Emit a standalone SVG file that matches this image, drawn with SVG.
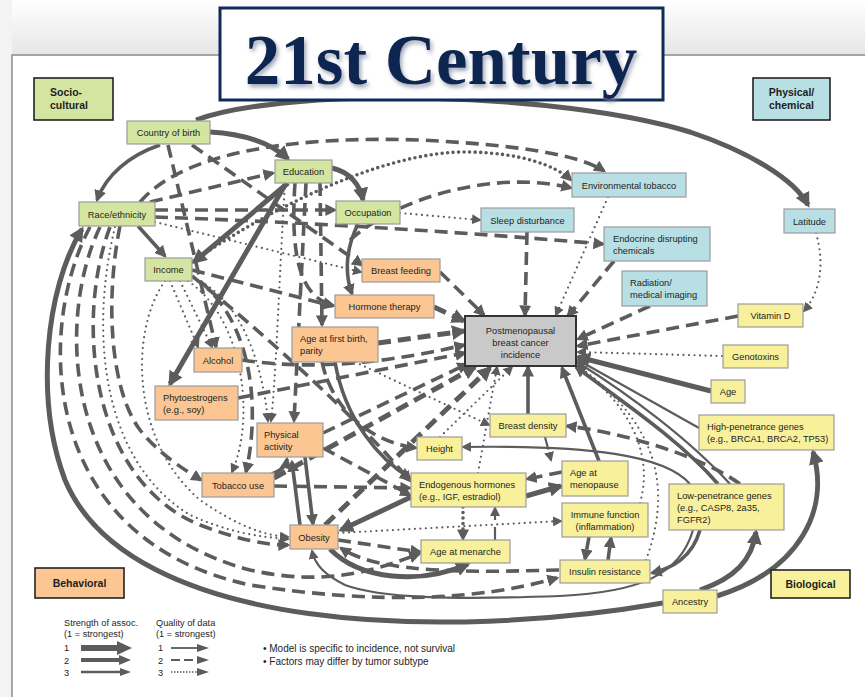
<svg xmlns="http://www.w3.org/2000/svg" width="865" height="697" viewBox="0 0 865 697">
<defs>
<linearGradient id="sh" x1="0" y1="0" x2="0" y2="1"><stop offset="0" stop-color="#ffffff"/><stop offset="1" stop-color="#e6e6e6"/></linearGradient>
<filter id="ds" x="-10%" y="-20%" width="120%" height="150%"><feDropShadow dx="2" dy="3" stdDeviation="2" flood-color="#7d879c" flood-opacity="0.75"/></filter>
<marker id="a1" viewBox="0 0 10 10" refX="8" refY="5" markerWidth="15" markerHeight="15" markerUnits="userSpaceOnUse" orient="auto"><path d="M0,0 L10,5 L0,10z" fill="#5c5c5c"/></marker>
<marker id="a2" viewBox="0 0 10 10" refX="8" refY="5" markerWidth="12" markerHeight="12" markerUnits="userSpaceOnUse" orient="auto"><path d="M0,0 L10,5 L0,10z" fill="#5c5c5c"/></marker>
<marker id="a3" viewBox="0 0 10 10" refX="8" refY="5" markerWidth="10" markerHeight="10" markerUnits="userSpaceOnUse" orient="auto"><path d="M0,0 L10,5 L0,10z" fill="#5c5c5c"/></marker>
</defs>
<style>
text{font-family:"Liberation Sans",Arial,sans-serif;font-size:9.3px;fill:#1e1e1e}
.n rect{stroke:#9c9c9c;stroke-width:1.2}
.g rect{fill:#d3e5a1}.b rect{fill:#b8dfe3}.r rect{fill:#fbc692}.y rect{fill:#f8f09b}
.cat rect{stroke:#222;stroke-width:1.6}
.cat text{font-weight:bold;font-size:10.5px}
.mid{text-anchor:middle}
#connectors path{fill:none;stroke:#5c5c5c}
.t1{stroke-width:5}.t2{stroke-width:3.6}.t3{stroke-width:2.2}
.da{stroke-dasharray:13 7}
.do{stroke-dasharray:0 5.5;stroke-linecap:round}
.e1{marker-end:url(#a1)}.e2{marker-end:url(#a2)}.e3{marker-end:url(#a3)}
.leg{font-size:9.2px}
</style>
<rect x="0" y="0" width="865" height="697" fill="#f3f3f3"/>
<rect x="12" y="0" width="853" height="55" fill="url(#sh)"/>
<rect x="12" y="55" width="860" height="650" fill="#ffffff" stroke="#8a8a8a" stroke-width="1.5"/>

<g id="connectors">
<path class="t1 e1" d="M196,120 C290,86 560,92 690,132 C750,152 795,180 808,205"/>
<path class="t2 e2" d="M160,145 C130,155 106,175 97,200"/>
<path class="t1 e1" d="M210,132 C245,134 272,144 288,159"/>
<path class="t2 da e2" d="M140,202 C185,150 300,136 420,140 C520,145 580,155 604,171"/>
<path class="t2 da e2" d="M150,202 L273,173"/>
<path class="t2 da e2" d="M168,145 L216,347"/>
<path class="t2 da e2" d="M192,145 L362,265"/>
<path class="t2 da e2" d="M155,210 L335,210"/>
<path class="t2 e2" d="M138,226 L165,256"/>
<path class="t1 e1" d="M288,183 L194,262"/>
<path class="t1 e1" d="M332,168 C350,172 360,185 363,200"/>
<path class="t2 do e2" d="M192,262 C260,215 380,150 470,152 C520,153 555,165 571,180"/>
<path class="t2 da e2" d="M350,240 C400,195 500,170 571,188"/>
<path class="t3 do e3" d="M400,213 L480,220"/>
<path class="t2 da e2" d="M155,217 Q380,225 603,244"/>
<path class="t3 do e3" d="M155,222 L361,272"/>
<path class="t2 da e2" d="M320,183 L322,325"/>
<path class="t2 da e2" d="M295,183 C290,255 300,298 333,305"/>
<path class="t2 da e2" d="M306,183 L294,421"/>
<path class="t3 do e3" d="M285,183 C280,260 276,380 271,421"/>
<path class="t2 e2" d="M358,224 C345,250 345,275 352,294"/>
<path class="t2 da e2" d="M192,270 L333,306"/>
<path class="t1 e1" d="M285,185 L170,384"/>
<path class="t3 do e3" d="M180,281 L212,347"/>
<path class="t3 do e3" d="M170,281 L198,347"/>
<path class="t3 do e3" d="M188,281 C245,320 255,420 232,472"/>
<path class="t2 da e2" d="M200,281 C258,330 258,420 246,472"/>
<path class="t3 do e3" d="M196,279 C240,300 262,360 268,421"/>
<path class="t3 do e3" d="M165,281 C130,330 130,440 200,500 C240,528 268,536 288,537"/>
<path class="t2 da e2" d="M192,276 C260,330 360,420 410,481"/>
<path class="t2 da e2" d="M120,226 C105,300 110,390 140,430 C160,455 185,470 201,480"/>
<path class="t2 da e2" d="M100,227 C55,320 60,520 250,570 C330,588 380,568 419,554"/>
<path class="t2 da e2" d="M110,227 C75,320 90,480 200,525 C240,540 265,545 288,545"/>
<path class="t3 do e3" d="M115,227 C90,330 100,460 190,515 C230,533 260,537 288,539"/>
<path class="t2 da e2" d="M90,227 C35,330 40,540 250,585 C380,605 480,600 557,578"/>
<path class="t1 e1" d="M663,603 C450,640 130,635 65,480 C35,400 45,290 82,229"/>
<path class="t3 e3" d="M693,530 C680,575 640,592 560,596 C450,600 380,598 345,585 C325,575 315,565 312,551"/>
<path class="t2 da e2" d="M559,570 C480,572 380,575 341,548"/>
<path class="t1 e1" d="M330,549 C360,580 420,585 468,564"/>
<path class="t3 do e3" d="M338,533 L561,521"/>
<path class="t1 e1" d="M411,497 L341,530"/>
<path class="t2 da e2" d="M338,540 L420,552"/>
<path class="t2 do e2" d="M463,507 L463,539"/>
<path class="t3 da e3" d="M495,540 L495,508"/>
<path class="t2 da e2" d="M589,537 L585,559"/>
<path class="t2 da e2" d="M608,560 L611,538"/>
<path class="t1 e1" d="M526,496 L561,486"/>
<path class="t2 da e2" d="M562,472 L527,479"/>
<path class="t2 e2" d="M599,461 L562,368"/>
<path class="t2 e2" d="M528,414 L528,367"/>
<path class="t3 da e3" d="M545,437 L551,460"/>
<path class="t3 e3" d="M690,484 C665,455 590,445 463,447"/>
<path class="t2 da e2" d="M740,484 C700,455 620,432 567,426"/>
<path class="t2 e2" d="M718,484 C680,440 620,400 576,367"/>
<path class="t3 e3" d="M730,484 C690,440 630,395 577,362"/>
<path class="t1 e1" d="M700,590 C735,578 752,560 756,532"/>
<path class="t1 e1" d="M717,596 C800,570 830,510 813,452"/>
<path class="t2 e2" d="M700,530 C692,558 672,568 652,573"/>
<path class="t3 do e3" d="M646,560 C668,500 668,430 578,366"/>
<path class="t3 do e3" d="M640,503 C655,450 625,400 576,366"/>
<path class="t3 e3" d="M699,428 L578,360"/>
<path class="t1 e1" d="M711,391 L578,357"/>
<path class="t3 do e3" d="M722,356 L578,352"/>
<path class="t2 da e2" d="M738,316 L578,346"/>
<path class="t2 da e2" d="M650,306 L578,339"/>
<path class="t2 da e2" d="M614,261 L568,316"/>
<path class="t3 do e3" d="M608,197 L556,315"/>
<path class="t2 da e2" d="M527,232 L525,315"/>
<path class="t3 do e3" d="M816,233 C826,268 818,295 804,311"/>
<path class="t2 da e2" d="M440,272 L484,315"/>
<path class="t1 da e1" d="M434,307 L464,321"/>
<path class="t1 da e1" d="M378,343 L464,331"/>
<path class="t3 do e3" d="M355,362 L489,425"/>
<path class="t2 da e2" d="M242,360 C320,372 400,360 464,345"/>
<path class="t2 da e2" d="M238,398 L465,353"/>
<path class="t2 da e2" d="M323,433 L467,364"/>
<path class="t1 da e1" d="M274,478 L475,367"/>
<path class="t1 da e1" d="M325,525 L490,368"/>
<path class="t3 do e3" d="M440,437 L512,367"/>
<path class="t3 do e3" d="M478,473 L497,367"/>
<path class="t2 da e2" d="M274,486 L410,488"/>
<path class="t2 e2" d="M272,474 C282,470 286,466 287,459"/>
<path class="t2 e2" d="M305,457 L313,524"/>
<path class="t2 e2" d="M335,362 C345,420 380,460 410,478"/>
<path class="t2 da e2" d="M322,362 C330,400 360,440 416,448"/>
<path class="t2 da e2" d="M323,448 L410,495"/>
<path class="t2 e2" d="M300,525 L292,462"/>
</g>

<g id="title">
<rect x="220" y="8" width="443" height="92" fill="#ffffff" stroke="#0f2b57" stroke-width="3"/>
<text x="441" y="84" text-anchor="middle" filter="url(#ds)" style="font-family:'Liberation Serif','Times New Roman',serif;font-size:71px;font-weight:bold;fill:#0c2551">21st Century</text>
</g>

<g id="cat-socio-cultural" class="cat g"><rect x="34" y="78" width="79" height="42"/><text x="50" y="96">Socio-</text><text x="50" y="109">cultural</text></g>
<g id="cat-physical-chemical" class="cat b"><rect x="753" y="78" width="77" height="42"/><text x="791.5" y="96" class="mid">Physical/</text><text x="791.5" y="109" class="mid">chemical</text></g>
<g id="cat-behavioral" class="cat r"><rect x="35" y="568" width="89" height="30"/><text x="79.5" y="587" class="mid">Behavioral</text></g>
<g id="cat-biological" class="cat y"><rect x="771" y="570" width="79" height="28"/><text x="810.5" y="588" class="mid">Biological</text></g>

<g id="country-of-birth" class="n g"><rect x="127" y="121" width="83" height="23"/><text x="168.5" y="136" class="mid">Country of birth</text></g>
<g id="education" class="n g"><rect x="275" y="160" width="57" height="23"/><text x="303.5" y="175" class="mid">Education</text></g>
<g id="race-ethnicity" class="n g"><rect x="79" y="202" width="76" height="24"/><text x="117" y="218" class="mid">Race/ethnicity</text></g>
<g id="occupation" class="n g"><rect x="336" y="201" width="64" height="23"/><text x="368" y="216" class="mid">Occupation</text></g>
<g id="income" class="n g"><rect x="145" y="258" width="47" height="23"/><text x="168.5" y="273" class="mid">Income</text></g>

<g id="environmental-tobacco" class="n b"><rect x="572" y="173" width="114" height="24"/><text x="629" y="189" class="mid">Environmental tobacco</text></g>
<g id="sleep-disturbance" class="n b"><rect x="481" y="208" width="93" height="24"/><text x="527.5" y="224" class="mid">Sleep disturbance</text></g>
<g id="latitude" class="n b"><rect x="784" y="209" width="51" height="24"/><text x="809.5" y="225" class="mid">Latitude</text></g>
<g id="endocrine-disrupting-chemicals" class="n b"><rect x="604" y="227" width="106" height="34"/><text x="613" y="242">Endocrine disrupting</text><text x="613" y="254">chemicals</text></g>
<g id="radiation-medical-imaging" class="n b"><rect x="622" y="271" width="85" height="35"/><text x="630" y="286">Radiation/</text><text x="630" y="298">medical imaging</text></g>

<g id="breast-feeding" class="n r"><rect x="362" y="259" width="78" height="23"/><text x="401" y="274" class="mid">Breast feeding</text></g>
<g id="hormone-therapy" class="n r"><rect x="335" y="295" width="99" height="23"/><text x="384.5" y="310" class="mid">Hormone therapy</text></g>
<g id="age-at-first-birth" class="n r"><rect x="292" y="327" width="86" height="35"/><text x="300" y="342">Age at first birth,</text><text x="300" y="354">parity</text></g>
<g id="alcohol" class="n r"><rect x="194" y="348" width="48" height="24"/><text x="218" y="364" class="mid">Alcohol</text></g>
<g id="phytoestrogens" class="n r"><rect x="155" y="386" width="83" height="34"/><text x="163" y="401">Phytoestrogens</text><text x="163" y="413">(e.g., soy)</text></g>
<g id="physical-activity" class="n r"><rect x="257" y="423" width="66" height="34"/><text x="264" y="438">Physical</text><text x="264" y="450">activity</text></g>
<g id="tobacco-use" class="n r"><rect x="202" y="473" width="72" height="24"/><text x="238" y="489" class="mid">Tobacco use</text></g>
<g id="obesity" class="n r"><rect x="290" y="525" width="48" height="24"/><text x="314" y="541" class="mid">Obesity</text></g>

<g id="incidence"><rect x="465" y="316" width="111" height="50" fill="#c9c9c9" stroke="#333" stroke-width="2"/><text x="520.5" y="334" class="mid">Postmenopausal</text><text x="520.5" y="346" class="mid">breast cancer</text><text x="520.5" y="358" class="mid">incidence</text></g>

<g id="vitamin-d" class="n y"><rect x="738" y="304" width="65" height="23"/><text x="770.5" y="319" class="mid">Vitamin D</text></g>
<g id="genotoxins" class="n y"><rect x="723" y="345" width="65" height="23"/><text x="755.5" y="360" class="mid">Genotoxins</text></g>
<g id="age" class="n y"><rect x="711" y="380" width="34" height="23"/><text x="728" y="395" class="mid">Age</text></g>
<g id="high-penetrance-genes" class="n y"><rect x="699" y="415" width="135" height="35"/><text x="707" y="430">High-penetrance genes</text><text x="707" y="442">(e.g., BRCA1, BRCA2, TP53)</text></g>
<g id="breast-density" class="n y"><rect x="490" y="414" width="76" height="23"/><text x="528" y="429" class="mid">Breast density</text></g>
<g id="height" class="n y"><rect x="417" y="437" width="45" height="23"/><text x="439.5" y="452" class="mid">Height</text></g>
<g id="age-at-menopause" class="n y"><rect x="562" y="461" width="66" height="35"/><text x="570" y="476">Age at</text><text x="570" y="488">menopause</text></g>
<g id="endogenous-hormones" class="n y"><rect x="411" y="473" width="115" height="34"/><text x="419" y="488">Endogenous hormones</text><text x="419" y="500">(e.g., IGF, estradiol)</text></g>
<g id="immune-function" class="n y"><rect x="562" y="503" width="86" height="34"/><text x="605" y="518" class="mid">Immune function</text><text x="605" y="530" class="mid">(inflammation)</text></g>
<g id="low-penetrance-genes" class="n y"><rect x="669" y="484" width="115" height="46"/><text x="677" y="499">Low-penetrance genes</text><text x="677" y="511">(e.g., CASP8, 2a35,</text><text x="677" y="523">FGFR2)</text></g>
<g id="age-at-menarche" class="n y"><rect x="421" y="540" width="89" height="23"/><text x="465.5" y="555" class="mid">Age at menarche</text></g>
<g id="insulin-resistance" class="n y"><rect x="560" y="560" width="90" height="23"/><text x="605" y="575" class="mid">Insulin resistance</text></g>
<g id="ancestry" class="n y"><rect x="663" y="590" width="54" height="23"/><text x="690" y="605" class="mid">Ancestry</text></g>

<g id="legend">
<text class="leg" x="64" y="626">Strength of assoc.</text>
<text class="leg" x="64" y="637">(1 = strongest)</text>
<text class="leg" x="64" y="651">1</text><text class="leg" x="64" y="664">2</text><text class="leg" x="64" y="676">3</text>
<line x1="81" y1="648" x2="119" y2="648" stroke="#5c5c5c" stroke-width="6"/><polygon points="117,641 132,648 117,655" fill="#5c5c5c"/>
<line x1="81" y1="660" x2="120" y2="660" stroke="#5c5c5c" stroke-width="4"/><polygon points="119,655 131,660 119,665" fill="#5c5c5c"/>
<line x1="81" y1="672" x2="121" y2="672" stroke="#5c5c5c" stroke-width="2.5"/><polygon points="120,668 131,672 120,676" fill="#5c5c5c"/>
<text class="leg" x="156" y="626">Quality of data</text>
<text class="leg" x="156" y="637">(1 = strongest)</text>
<text class="leg" x="158" y="651">1</text><text class="leg" x="158" y="664">2</text><text class="leg" x="158" y="676">3</text>
<line x1="171" y1="648" x2="199" y2="648" stroke="#5c5c5c" stroke-width="1.8"/><polygon points="197,644 209,648 197,652" fill="#5c5c5c"/>
<line x1="171" y1="660" x2="199" y2="660" stroke="#5c5c5c" stroke-width="2" stroke-dasharray="9 4"/><polygon points="197,656 209,660 197,664" fill="#5c5c5c"/>
<line x1="171" y1="672" x2="199" y2="672" stroke="#5c5c5c" stroke-width="1.6" stroke-dasharray="1.5 1.5"/><polygon points="197,668 209,672 197,676" fill="#5c5c5c"/>
<text x="263" y="652" style="font-size:10px">• Model is specific to incidence, not survival</text>
<text x="263" y="665" style="font-size:10px">• Factors may differ by tumor subtype</text>
</g>
</svg>
